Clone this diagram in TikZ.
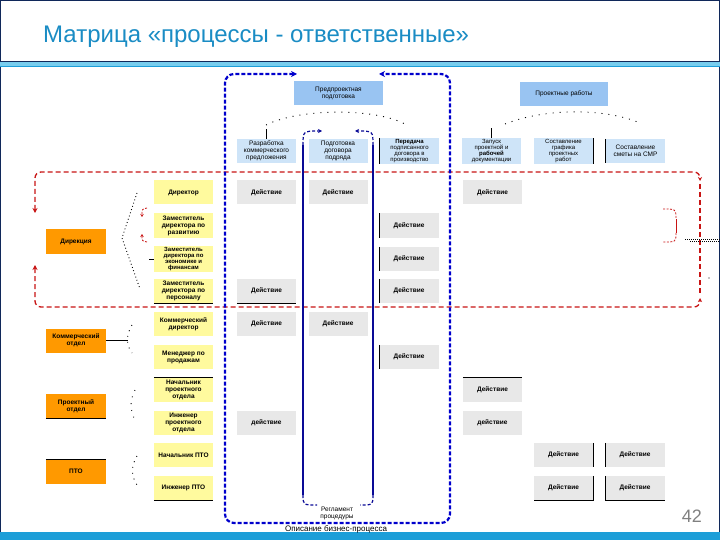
\documentclass[tikz,border=0pt]{standalone}
\usepackage{fontspec}
\setmainfont{Liberation Sans}
\usepackage{xcolor}
\definecolor{mxnavy}{RGB}{16,40,90}
\definecolor{mxtitle}{RGB}{26,140,196}
\definecolor{mxband}{RGB}{28,158,216}
\definecolor{mxcyan}{RGB}{120,205,238}
\definecolor{mxproc}{RGB}{153,196,242}
\definecolor{mxsub}{RGB}{206,228,248}
\definecolor{mxrole}{RGB}{255,250,158}
\definecolor{mxdept}{RGB}{255,153,0}
\definecolor{mxact}{RGB}{232,232,232}
\definecolor{mxred}{RGB}{200,20,20}
\definecolor{mxblue}{RGB}{0,0,204}
\definecolor{mxdeep}{RGB}{10,10,150}
\definecolor{mxgray}{RGB}{128,128,128}
\usepackage{tikz}
\usetikzlibrary{arrows.meta}

\begin{document}
\begin{tikzpicture}[x=1pt, y=-1pt,
  every node/.style={inner sep=1pt, align=center, font=\fontsize{6.5}{7}\selectfont},
  procbox/.style={fill=mxproc, minimum width=89pt, minimum height=24pt},
  subbox/.style={fill=mxsub, minimum width=59pt, minimum height=24pt},
  rolebox/.style={fill=mxrole, minimum width=59pt, minimum height=24pt, font=\fontsize{6.5}{7}\selectfont\bfseries},
  deptbox/.style={fill=mxdept, minimum width=60pt, minimum height=24pt, font=\fontsize{6.5}{7}\selectfont\bfseries},
  actbox/.style={fill=mxact, minimum width=59pt, minimum height=24pt, font=\fontsize{6.5}{7}\selectfont\bfseries},
  tightsub/.style={font=\fontsize{6}{6}\selectfont},
  tightrole/.style={font=\fontsize{6}{6}\selectfont\bfseries},
  edgeline/.style={black, line width=0.9pt},
  treedots/.style={black, line width=0.9pt, dash pattern=on 0.9pt off 2.5pt},
  redloop/.style={mxred, line width=1.3pt, dash pattern=on 5pt off 3pt, rounded corners=6pt},
  bizframe/.style={mxblue, line width=2.2pt, dash pattern=on 4pt off 2pt, rounded corners=9pt},
  regframe/.style={mxdeep, line width=1.2pt}]
  \useasboundingbox (0,0) rectangle (720,540);

  % slide frame, title, bands
  \draw[mxnavy, line width=1pt] (0.5,0.5) rectangle (719.5,539.5);
  \fill[mxcyan] (0,62) rectangle (720,66);
  \draw[mxnavy, line width=0.8pt] (0,61.5) -- (720,61.5);
  \draw[mxband, line width=0.8pt] (0,66.5) -- (720,66.5);
  \fill[mxband] (0,532) rectangle (720,540);
  \node[anchor=base west, font=\fontsize{24}{28}\selectfont, text=mxtitle] (title) at (42,43) {Матрица «процессы - ответственные»};
  \node[anchor=base east, font=\fontsize{18}{20}\selectfont, text=mxgray] (pgnum) at (703,522) {42};

  % processes
  \node[procbox] (pre) at (338.5,93.5) {Предпроектная\\подготовка};
  \node[procbox, minimum width=88pt] (prj) at (564,94) {Проектные работы};
  \node[subbox] (s1) at (266.5,151) {Разработка\\коммерческого\\предложения};
  \node[subbox] (s2) at (338,151) {Подготовка\\договора\\подряда};
  \node[subbox, tightsub] (s3) at (409.5,151) {\textbf{Передача}\\подписанного\\договора в\\производство};
  \node[subbox, tightsub] (s4) at (491.5,151) {Запуск\\проектной и\\\textbf{рабочей}\\документации};
  \node[subbox, tightsub] (s5) at (563.5,151) {Составление\\графика\\проектных\\работ};
  \node[subbox] (s6) at (635.5,151) {Составление\\сметы на СМР};
  \draw[edgeline] (s1.north) -- ++(0,-10);
  \draw[edgeline] (s4.north) -- ++(0,-10);
  \draw[treedots, dash pattern=on 1pt off 6pt] (266,125) .. controls (300,108) and (375,108) .. (405,124);
  \draw[treedots, dash pattern=on 1pt off 6pt] (505,124) .. controls (545,108) and (605,108) .. (640,123);
  \draw[edgeline] (s3.north west) -- (s3.south west);
  \draw[edgeline] (s5.north east) -- (s5.south east);
  \draw[edgeline] (s6.north west) -- (s6.south west);

  % departments and roles
  \node[deptbox] (d1) at (76,241.5) {Дирекция};
  \node[deptbox] (d2) at (76,340.5) {Коммерческий\\отдел};
  \node[deptbox] (d3) at (76,406) {Проектный\\отдел};
  \node[deptbox] (d4) at (76,471.5) {ПТО};
  \node[rolebox] (r1) at (183.5,192.5) {Директор};
  \node[rolebox] (r2) at (183.5,225.5) {Заместитель\\директора по\\развитию};
  \node[rolebox, tightrole] (r3) at (183.5,259) {Заместитель\\директора по\\экономике и\\финансам};
  \node[rolebox] (r4) at (183.5,291) {Заместитель\\директора по\\персоналу};
  \node[rolebox] (r5) at (183.5,324) {Коммерческий\\директор};
  \node[rolebox] (r6) at (183.5,357) {Менеджер по\\продажам};
  \node[rolebox] (r7) at (183.5,390) {Начальник\\проектного\\отдела};
  \node[rolebox] (r8) at (183.5,422.5) {Инженер\\проектного\\отдела};
  \node[rolebox] (r9) at (183.5,455) {Начальник ПТО};
  \node[rolebox] (r10) at (183.5,488) {Инженер ПТО};
  \draw[treedots] (137,193) -- (122,238) -- (140,289);
  \draw[treedots, dash pattern=on 0.9pt off 5pt] (132,325) .. controls (126,335) and (126,345) .. (132,353);
  \draw[treedots, dash pattern=on 0.9pt off 6pt] (135,390) .. controls (130,400) and (130,408) .. (134,418);
  \draw[treedots, dash pattern=on 0.9pt off 5pt] (137,456) .. controls (131,466) and (131,476) .. (137,485);
  \draw[edgeline] (d2.east) -- ++(22,0);
  \draw[edgeline] (r3.west) -- ++(-5,0);
  \draw[edgeline] (r4.south west) -- (r4.south east);
  \draw[edgeline] (r7.north west) -- (r7.north east);
  \draw[edgeline] (r10.south west) -- (r10.south east);
  \draw[edgeline] (d3.south west) -- (d3.south east);
  \draw[edgeline] (d4.north west) -- (d4.north east);

  % actions
  \node[actbox] (a11) at (266.5,192.5) {Действие};
  \node[actbox] (a12) at (338,192.5) {Действие};
  \node[actbox] (a14) at (492.5,192.5) {Действие};
  \node[actbox] (a23) at (409,225.5) {Действие};
  \node[actbox] (a33) at (409,259) {Действие};
  \node[actbox] (a41) at (266.5,291) {Действие};
  \node[actbox] (a43) at (409,291) {Действие};
  \node[actbox] (a51) at (266.5,324) {Действие};
  \node[actbox] (a52) at (338,324) {Действие};
  \node[actbox] (a63) at (409,357) {Действие};
  \node[actbox] (a74) at (492.5,390) {Действие};
  \node[actbox] (a81) at (266.5,422.5) {действие};
  \node[actbox] (a84) at (492.5,422.5) {действие};
  \node[actbox] (a95) at (563.5,455) {Действие};
  \node[actbox] (a96) at (635,455) {Действие};
  \node[actbox] (a105) at (563.5,488) {Действие};
  \node[actbox] (a106) at (635,488) {Действие};
  \draw[edgeline] (a23.north west) -- (a23.south west);
  \draw[edgeline] (a33.north west) -- (a33.south west);
  \draw[edgeline] (a43.north west) -- (a43.south west);
  \draw[edgeline] (a41.south west) -- (a41.south east);
  \draw[edgeline] (a63.north west) -- (a63.south west);
  \draw[edgeline] (a74.north west) -- (a74.north east);
  \draw[edgeline] (a95.north east) -- (a95.south east);
  \draw[edgeline] (a96.north west) -- (a96.south west);
  \draw[edgeline] (a105.north east) -- (a105.south east) -- (a105.south west);
  \draw[edgeline] (a106.north west) -- (a106.south west) -- (a106.south east);

  % red loop round the Дирекция rows
  \coordinate (lpa) at (35,213);
  \coordinate (lpb) at (35,265);
  \draw[redloop, {Stealth[length=5pt,width=5pt]}-{Stealth[length=4pt,width=4pt]}] (lpa) -- (35,172) -- (700,172) -- (700,181);
  \draw[redloop, {Stealth[length=5pt,width=5pt]}-{Stealth[length=4pt,width=4pt]}] (lpb) -- (35,307) -- (700,307) -- (700,298);
  \draw[redloop] (700,184) -- (700,295);
  \draw[mxred, line width=0.8pt, dash pattern=on 2pt off 1.5pt, -{Stealth[length=3pt,width=3.5pt]}] (147,208) .. controls (142,209) .. (142,217);
  \draw[mxred, line width=0.8pt, dash pattern=on 2pt off 1.5pt, -{Stealth[length=3pt,width=3.5pt]}] (147,242) .. controls (142,241) .. (142,234);
  \draw[mxred, line width=0.8pt, dash pattern=on 2pt off 1.5pt] (663,209) .. controls (676,209) .. (676,219);
  \draw[mxred, line width=0.8pt] (676,219) -- (676,233);
  \draw[mxred, line width=0.8pt, dash pattern=on 2pt off 1.5pt] (676,233) .. controls (676,242) .. (663,242);
  \draw[black, line width=0.6pt, dash pattern=on 0.8pt off 1.2pt] (685,239) -- (720,239);
  \draw[black, line width=0.6pt, dash pattern=on 0.8pt off 1.2pt] (690,241.5) -- (720,241.5);
  \fill[black] (709,278) circle (0.6);

  % business process frame and procedure frame
  \draw[bizframe, {Stealth[length=6pt,width=6pt]}-{Stealth[length=6pt,width=6pt]}] (297,74) -- (225,74) -- (225,523) -- (450,523) -- (450,74) -- (379,74);
  \draw[regframe, dash pattern=on 3pt off 2pt, -{Stealth[length=4pt,width=4pt]}] (303,145) .. controls (303,131) .. (322,131);
  \draw[regframe, dash pattern=on 3pt off 2pt, -{Stealth[length=4pt,width=4pt]}] (373,145) .. controls (373,131) .. (355,131);
  \draw[regframe] (303,145) -- (303,495);
  \draw[regframe] (373,145) -- (373,495);
  \draw[regframe, dash pattern=on 3pt off 2pt] (303,495) .. controls (303,505) .. (317,505);
  \draw[regframe, dash pattern=on 3pt off 2pt] (373,495) .. controls (373,505) .. (360,505);
  \node[font=\fontsize{6.5}{7}\selectfont, inner sep=0pt] (regl) at (337,513.5) {Регламент\\процедуры};
  \node[anchor=base, font=\fontsize{8}{9}\selectfont] (bizl) at (336,531) {Описание бизнес-процесса};
\end{tikzpicture}
\end{document}
